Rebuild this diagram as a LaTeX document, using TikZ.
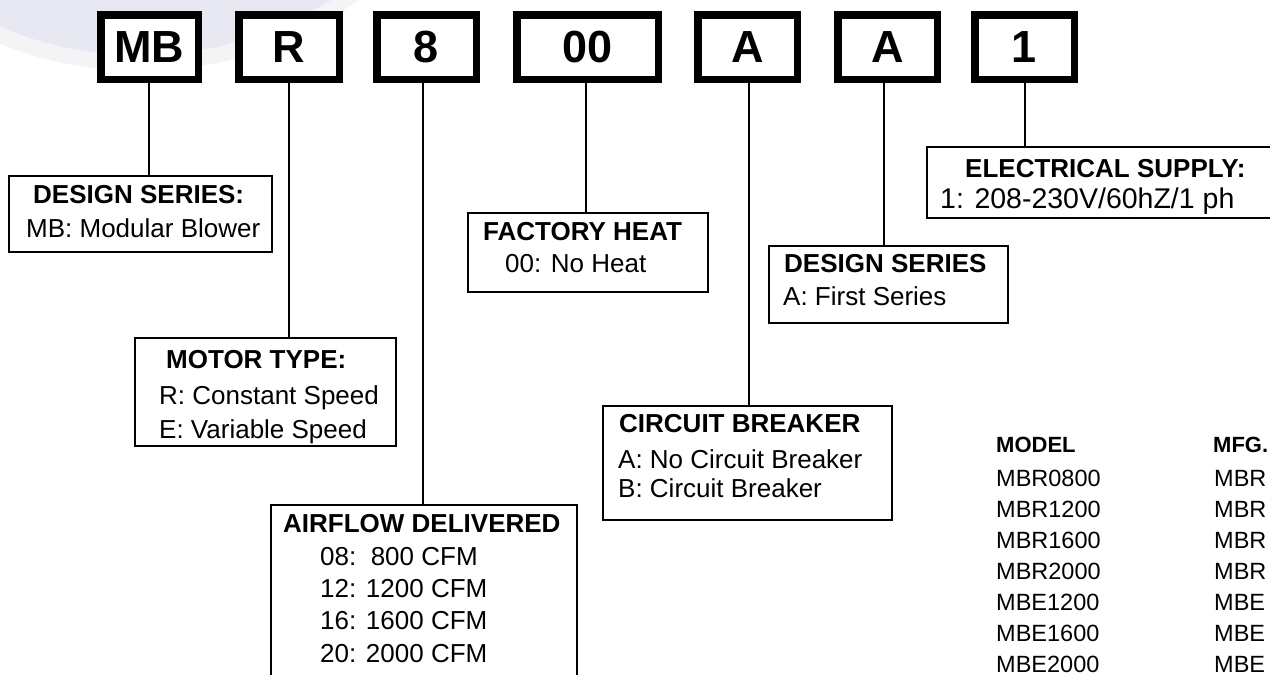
\documentclass[tikz,border=0pt]{standalone}
\usepackage{fontspec}
\setmainfont{Liberation Sans}
\definecolor{lav}{HTML}{E7E8F2}
\definecolor{band}{HTML}{F4F3F6}
\begin{document}
\begin{tikzpicture}[x=1pt,y=-1pt,
  codebox/.style={draw=black, line width=7.5pt, fill=white, inner sep=0pt,
    minimum height=64.5pt, font=\fontsize{45}{50}\selectfont\bfseries},
  lblbox/.style={draw=black, line width=1.6pt, fill=white, inner sep=0pt},
  conn/.style={line width=1.6pt},
  hd/.style={anchor=base west, inner sep=0pt, font=\fontsize{26}{30}\selectfont\bfseries},
  bd/.style={anchor=base west, inner sep=0pt, font=\fontsize{26}{30}\selectfont},
  tbh/.style={anchor=base west, inner sep=0pt, font=\fontsize{22}{26}\selectfont\bfseries},
  tb/.style={anchor=base west, inner sep=0pt, font=\fontsize{23.5}{28}\selectfont}]
\useasboundingbox (0,0) rectangle (1270,675);
\clip (0,0) rectangle (1270,675);
% faint background
\fill[band] (140,-285) ellipse [x radius=364, y radius=356];
\fill[lav] (140,-285) ellipse [x radius=350, y radius=340];

% code boxes
\node[codebox, minimum width=97.5pt]  (bMB) at (149.5,47) {MB};
\node[codebox, minimum width=100.5pt] (bR)  at (289,47)   {R};
\node[codebox, minimum width=99.5pt]  (b8)  at (426.5,47) {8};
\node[codebox, minimum width=141.5pt] (b00) at (587.5,47) {00};
\node[codebox, minimum width=99.5pt]  (bA)  at (747.5,47) {A};
\node[codebox, minimum width=99.5pt]  (bA2) at (887.5,47) {A};
\node[codebox, minimum width=99.5pt]  (b1)  at (1024.5,47) {1};

% label boxes
\node[lblbox, minimum width=263pt, minimum height=76pt]  (ds)   at (140.5,214) {};
\node[lblbox, minimum width=261pt, minimum height=108pt] (mot)  at (265.5,392) {};
\node[lblbox, minimum width=306pt, minimum height=195pt] (air)  at (424,602.5) {};
\node[lblbox, minimum width=240pt, minimum height=79pt]  (fh)   at (588,252.5) {};
\node[lblbox, minimum width=239pt, minimum height=77pt]  (dsa)  at (888.5,284.5) {};
\node[lblbox, minimum width=289pt, minimum height=114pt] (cb)   at (747.5,463) {};
\node[lblbox, minimum width=363pt, minimum height=71pt]  (el)   at (1108.5,182.5) {};

% connector x positions
\coordinate (xMB) at (149,0);
\coordinate (xR)  at (289,0);
\coordinate (x8)  at (423,0);
\coordinate (x00) at (586,0);
\coordinate (xA)  at (749,0);
\coordinate (xA2) at (884,0);
\coordinate (x1)  at (1025,0);
\draw[conn] (xMB |- bMB.south) -- (xMB |- ds.north);
\draw[conn] (xR |- bR.south)   -- (xR |- mot.north);
\draw[conn] (x8 |- b8.south)   -- (x8 |- air.north);
\draw[conn] (x00 |- b00.south) -- (x00 |- fh.north);
\draw[conn] (xA |- bA.south)   -- (xA |- cb.north);
\draw[conn] (xA2 |- bA2.south) -- (xA2 |- dsa.north);
\draw[conn] (x1 |- b1.south)   -- (x1 |- el.north);

% texts
\node[hd] (dsh) at (33,203) {DESIGN SERIES:};
\node[bd] (dsb) at (26,237) {MB: Modular Blower};

\node[hd] (moth) at (166,368) {MOTOR TYPE:};
\node[bd] (motb1) at (159,404) {R: Constant Speed};
\node[bd] (motb2) at (159,438) {E: Variable Speed};

\node[hd] (airh) at (283,532) {AIRFLOW DELIVERED};
\node[bd] (air1) at (320,565) {08:\ \ 800 CFM};
\node[bd] (air2) at (320,597) {12: 1200 CFM};
\node[bd] (air3) at (320,629) {16: 1600 CFM};
\node[bd] (air4) at (320,662) {20: 2000 CFM};

\node[hd] (fhh) at (483,240) {FACTORY HEAT};
\node[bd] (fhb) at (505,272) {00: No Heat};

\node[hd] (dsah) at (784,272) {DESIGN SERIES};
\node[bd] (dsab) at (783,305) {A: First Series};

\node[hd] (cbh) at (619,432) {CIRCUIT BREAKER};
\node[bd] (cb1) at (618,468) {A: No Circuit Breaker};
\node[bd] (cb2) at (618,497) {B: Circuit Breaker};

\node[hd] (elh) at (965,177) {ELECTRICAL SUPPLY:};
\node[bd,font=\fontsize{28.5}{32}\selectfont] (elb) at (940,208) {1: 208-230V/60hZ/1 ph};

% table
\node[tbh] (th1) at (996,452) {MODEL};
\node[tbh] (th2) at (1213,452) {MFG.};
\foreach \m/\f [count=\i from 0] in {MBR0800/MBR,MBR1200/MBR,MBR1600/MBR,MBR2000/MBR,MBE1200/MBE,MBE1600/MBE,MBE2000/MBE}{
  \node[tb] (tm\i) at (996,486+31*\i) {\m};
  \node[tb] (tf\i) at (1214,486+31*\i) {\f};
}
\end{tikzpicture}
\end{document}
